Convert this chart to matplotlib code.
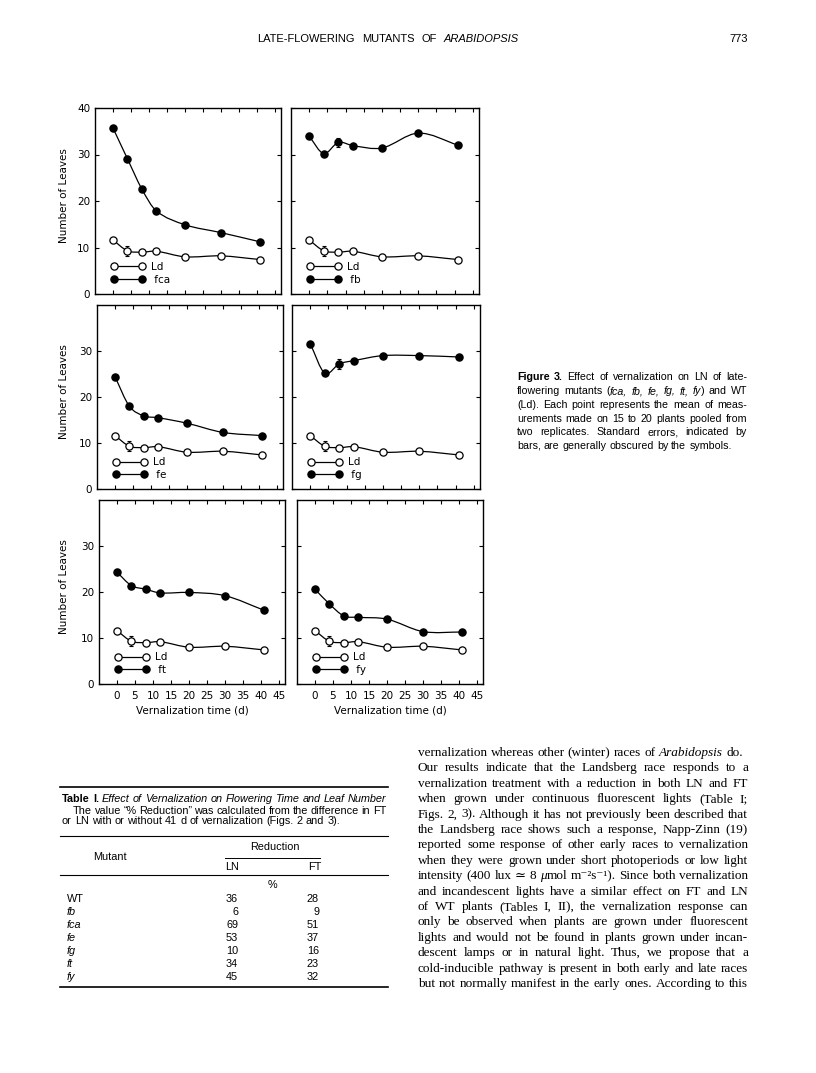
import re
import matplotlib
matplotlib.use("Agg")
import matplotlib.pyplot as plt
from matplotlib.path import Path
from matplotlib.patches import PathPatch
from matplotlib.lines import Line2D
import numpy as np

W, H, DPI = 816, 1073, 100

# ---------------- data ----------------
days = [0, 4, 8, 12, 20, 30, 41]
ld_leaves = [11.6, 9.3, 9.0, 9.2, 8.0, 8.2, 7.4]
ld_se = [0.3, 1.1, 0.3, 0.3, 0.3, 0.3, 0.3]
fca_leaves = [35.7, 29.1, 22.6, 17.9, 14.9, 13.2, 11.2]
fca_se = [0.3, 0.5, 0.4, 0.3, 0.3, 0.3, 0.3]
fb_leaves = [33.9, 30.2, 32.6, 31.9, 31.4, 34.6, 32.0]
fb_se = [0.3, 0.4, 1.0, 0.3, 0.3, 0.3, 0.3]
fe_leaves = [24.4, 18.0, 15.9, 15.5, 14.3, 12.3, 11.6]
fe_se = [0.3, 0.3, 0.3, 0.3, 0.3, 0.3, 0.3]
fg_leaves = [31.6, 25.2, 27.2, 27.9, 29.0, 29.0, 28.7]
fg_se = [0.3, 0.3, 1.1, 0.3, 0.3, 0.3, 0.3]
ft_leaves = [24.3, 21.4, 20.6, 19.8, 19.9, 19.2, 16.0]
ft_se = [0.3, 0.3, 0.3, 0.3, 0.3, 0.3, 0.3]
fy_leaves = [20.6, 17.4, 14.8, 14.5, 14.1, 11.4, 11.3]
fy_se = [0.3, 0.3, 0.3, 0.3, 0.3, 0.3, 0.3]

panel_names = [["fca", "fb"], ["fe", "fg"], ["ft", "fy"]]
panel_values = [[fca_leaves, fb_leaves], [fe_leaves, fg_leaves], [ft_leaves, fy_leaves]]
panel_errors = [[fca_se, fb_se], [fe_se, fg_se], [ft_se, fy_se]]
x_ticks = [0, 5, 10, 15, 20, 25, 30, 35, 40, 45]

table_mutants = ["WT", "fb", "fca", "fe", "fg", "ft", "fy"]
table_ln = [36, 6, 69, 53, 10, 34, 45]
table_ft = [28, 9, 51, 37, 16, 23, 32]

header_text = "LATE-FLOWERING MUTANTS OF *ARABIDOPSIS*"
page_number = "773"

caption_lines = [
    "**Figure 3.** Effect of vernalization on LN of late-",
    "flowering mutants (*fca, fb, fe, fg, ft, fy*) and WT",
    "(Ld). Each point represents the mean of meas-",
    "urements made on 15 to 20 plants pooled from",
    "two replicates. Standard errors, indicated by",
    "bars, are generally obscured by the symbols.",
]

body_lines = [
    "vernalization whereas other (winter) races of *Arabidopsis* do.",
    "Our results indicate that the Landsberg race responds to a",
    "vernalization treatment with a reduction in both LN and FT",
    "when grown under continuous fluorescent lights (Table I;",
    "Figs. 2, 3). Although it has not previously been described that",
    "the Landsberg race shows such a response, Napp-Zinn (19)",
    "reported some response of other early races to vernalization",
    "when they were grown under short photoperiods or low light",
    "intensity (400 lux \u2243 8 *\u03bc*mol m\u207b\u00b2s\u207b\u00b9). Since both vernalization",
    "and incandescent lights have a similar effect on FT and LN",
    "of WT plants (Tables I, II), the vernalization response can",
    "only be observed when plants are grown under fluorescent",
    "lights and would not be found in plants grown under incan-",
    "descent lamps or in natural light. Thus, we propose that a",
    "cold-inducible pathway is present in both early and late races",
    "but not normally manifest in the early ones. According to this",
]

table_title = "**Table I.** *Effect of Vernalization on Flowering Time and Leaf Number*"
table_note = [
    "The value \u201c% Reduction\u201d was calculated from the difference in FT",
    "or LN with or without 41 d of vernalization (Figs. 2 and 3).",
]

# ---------------- helpers ----------------
fig = plt.figure(figsize=(W / DPI, H / DPI), dpi=DPI)
fig.patch.set_facecolor("white")
renderer = fig.canvas.get_renderer()


def fx(x):
    return x / W


def fy(y):
    return 1 - y / H


def parse(line):
    segs = []
    bold = ital = False
    for t in re.split(r"(\*\*|\*)", line):
        if t == "**":
            bold = not bold
        elif t == "*":
            ital = not ital
        elif t:
            segs.append((t, bold, ital))
    return segs


def words_of(segs):
    words = [[]]
    for text, b, i in segs:
        parts = text.split(" ")
        for k, p in enumerate(parts):
            if k > 0:
                words.append([])
            if p:
                words[-1].append((p, b, i))
    return [w for w in words if w]


def style_kw(b, i, family, size):
    return dict(fontsize=size, family=family,
                fontweight="bold" if b else "normal",
                fontstyle="italic" if i else "normal")


def measure(s, b, i, family, size):
    t = fig.text(0, 0, s, **style_kw(b, i, family, size))
    w = t.get_window_extent(renderer).width
    t.remove()
    return w


def draw_line(line, x0, x1, y, family, size, justify=True, space_scale=1.0):
    words = words_of(parse(line))
    widths = [[measure(p, b, i, family, size) for p, b, i in w] for w in words]
    total = sum(sum(ws) for ws in widths)
    nat = (measure("a a", False, False, family, size) - measure("aa", False, False, family, size)) * space_scale
    if justify and len(words) > 1:
        sp = (x1 - x0 - total) / (len(words) - 1)
    else:
        sp = nat
    x = x0
    for w, ws in zip(words, widths):
        for (p, b, i), wd in zip(w, ws):
            fig.text(fx(x), fy(y), p, va="baseline", ha="left", color="black",
                     **style_kw(b, i, family, size))
            x += wd
        x += sp


def smooth_path(x, y):
    x = np.asarray(x, float)
    y = np.asarray(y, float)
    n = len(x)
    m = np.empty(n)
    m[0] = (y[1] - y[0]) / (x[1] - x[0])
    m[-1] = (y[-1] - y[-2]) / (x[-1] - x[-2])
    for k in range(1, n - 1):
        m[k] = (y[k + 1] - y[k - 1]) / (x[k + 1] - x[k - 1])
    verts = [(x[0], y[0])]
    codes = [Path.MOVETO]
    for k in range(n - 1):
        h = x[k + 1] - x[k]
        verts += [(x[k] + h / 3, y[k] + m[k] * h / 3),
                  (x[k + 1] - h / 3, y[k + 1] - m[k + 1] * h / 3),
                  (x[k + 1], y[k + 1])]
        codes += [Path.CURVE4] * 3
    return Path(verts, codes)


FIGFONT = "DejaVu Sans"
FS = 7.5
MS = 5.2

rows_px = [(108, 294), (305, 489), (500, 684)]
cols_px = [[(95, 281), (291, 479)], [(97, 283), (292, 480)], [(99, 285), (297, 483)]]

for r in range(3):
    top, bot = rows_px[r]
    for c in range(2):
        left, right = cols_px[r][c]
        ax = fig.add_axes([fx(left), fy(bot), (right - left) / W, (bot - top) / H])
        ax.set_xlim(-5, 46.7)
        ax.set_ylim(0, 40)
        series = [(ld_leaves, ld_se, "white"), (panel_values[r][c], panel_errors[r][c], "black")]
        for yv, se, face in series:
            ax.add_patch(PathPatch(smooth_path(days, yv), fill=False, lw=0.9,
                                   edgecolor="black", zorder=2))
            ax.errorbar(days, yv, yerr=se, fmt="none", ecolor="black",
                        elinewidth=0.8, capsize=1.6, capthick=0.8, zorder=2)
            ax.plot(days, yv, linestyle="none", marker="o", ms=MS, mfc=face,
                    mec="black", mew=0.9, zorder=3)
        handles = [Line2D([], [], color="black", lw=0.9, marker="o", ms=MS,
                          mfc="white", mec="black", mew=0.9),
                   Line2D([], [], color="black", lw=0.9, marker="o", ms=MS,
                          mfc="black", mec="black", mew=0.9)]
        ax.legend(handles, ["Ld", " " + panel_names[r][c]], loc="lower left",
                  bbox_to_anchor=(0.085, 0.05), frameon=False, numpoints=2,
                  handlelength=3.3, handletextpad=0.55, labelspacing=0.25,
                  borderpad=0, borderaxespad=0,
                  prop=dict(family=FIGFONT, size=FS))
        ax.set_xticks(x_ticks)
        ax.set_yticks([0, 10, 20, 30, 40] if r == 0 else [0, 10, 20, 30])
        ax.tick_params(direction="in", length=3, width=0.8, top=True, right=True,
                       labelsize=FS, pad=5)
        ax.tick_params(axis="y", pad=3.5)
        for lab in ax.get_xticklabels() + ax.get_yticklabels():
            lab.set_family(FIGFONT)
        if c == 1:
            ax.set_yticklabels([])
        if r < 2:
            ax.set_xticklabels([])
        else:
            ax.set_xlabel("Vernalization time (d)", family=FIGFONT, fontsize=FS,
                          labelpad=3)
        for s in ax.spines.values():
            s.set_linewidth(1.0)
    fig.text(fx(64), fy((top + bot) / 2 - 5), "Number of Leaves", rotation=90,
             ha="center", va="center", family=FIGFONT, fontsize=FS)

# ---------------- header ----------------
draw_line(header_text, 257, 528, 41.5, "Liberation Sans", 8.0, justify=False,
          space_scale=2.3)
fig.text(fx(748), fy(41.5), page_number, ha="right", va="baseline",
         family="Liberation Sans", fontsize=8.0)

# ---------------- caption ----------------
cap_y0, cap_dy = 380.5, 13.7
for k, line in enumerate(caption_lines):
    draw_line(line, 517, 747, cap_y0 + k * cap_dy, "Liberation Sans", 7.7,
              justify=(k < len(caption_lines) - 1))

# ---------------- body text ----------------
body_y0, body_dy = 756, 15.4
serif = ["Liberation Serif", "DejaVu Serif"]
for k, line in enumerate(body_lines):
    draw_line(line, 418, 748, body_y0 + k * body_dy, serif, 9.5, justify=(k != 0))

# ---------------- table ----------------
TF = ["Liberation Sans", "DejaVu Sans"]
TS = 7.8


def hrule(y, x0, x1, lw):
    fig.add_artist(Line2D([fx(x0), fx(x1)], [fy(y), fy(y)], color="black", lw=lw,
                          transform=fig.transFigure))


hrule(787, 60, 388, 1.2)
draw_line(table_title, 62, 386, 801.5, TF, TS, justify=True)
draw_line(table_note[0], 73, 386, 813.5, TF, TS, justify=True)
draw_line(table_note[1], 62, 386, 824.5, TF, TS, justify=False)
hrule(836, 60, 388, 0.8)
fig.text(fx(275), fy(850), "Reduction", ha="center", va="baseline", family=TF, fontsize=TS)
fig.text(fx(110), fy(860), "Mutant", ha="center", va="baseline", family=TF, fontsize=TS)
hrule(858, 225, 320, 0.7)
fig.text(fx(232), fy(870.5), "LN", ha="center", va="baseline", family=TF, fontsize=TS)
fig.text(fx(315), fy(870.5), "FT", ha="center", va="baseline", family=TF, fontsize=TS)
hrule(875, 60, 388, 0.8)
fig.text(fx(272), fy(888.5), "%", ha="center", va="baseline", family=TF, fontsize=TS)
row_y0, row_dy = 901.5, 13.1
for k, (mname, ln, ftv) in enumerate(zip(table_mutants, table_ln, table_ft)):
    yy = row_y0 + k * row_dy
    fig.text(fx(67), fy(yy), mname, ha="left", va="baseline", family=TF, fontsize=TS,
             fontstyle="normal" if mname == "WT" else "italic")
    fig.text(fx(238), fy(yy), str(ln), ha="right", va="baseline", family=TF, fontsize=TS)
    fig.text(fx(319), fy(yy), str(ftv), ha="right", va="baseline", family=TF, fontsize=TS)
hrule(987, 60, 388, 1.2)

fig.savefig("out.png", dpi=DPI, facecolor="white")
